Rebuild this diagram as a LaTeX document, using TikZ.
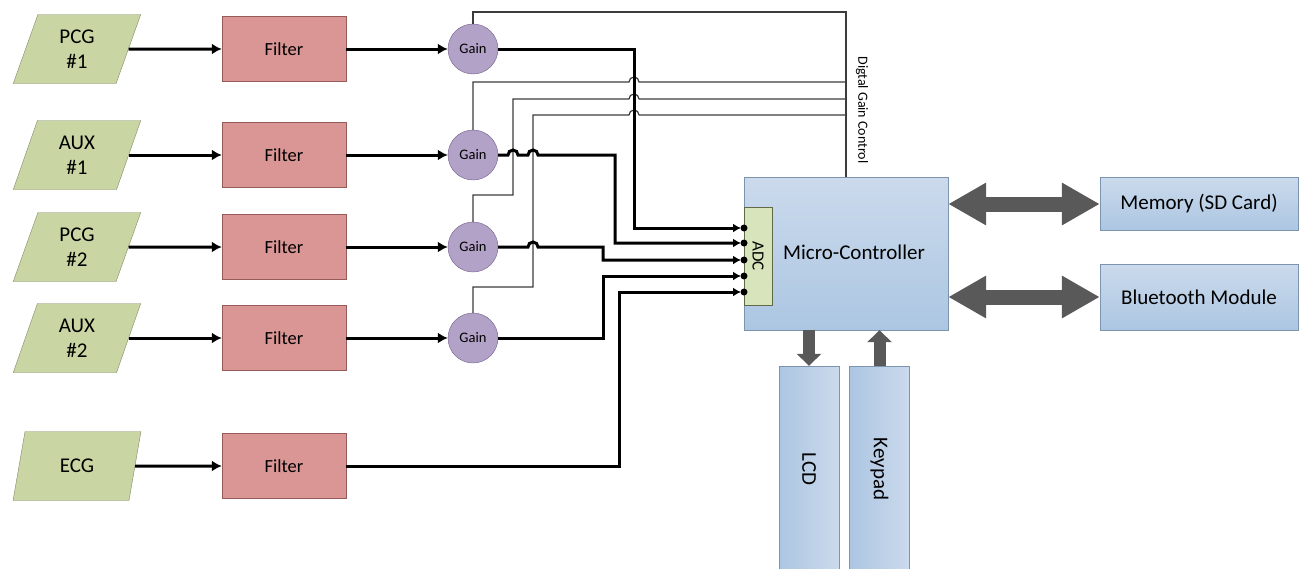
\documentclass[tikz,border=0pt]{standalone}
\usepackage{fontspec}
\setmainfont{Carlito}
\usetikzlibrary{arrows.meta,positioning,calc,shapes.geometric}
\definecolor{sensorgreen}{RGB}{201,214,163}
\definecolor{sensoredge}{RGB}{128,138,104}
\definecolor{filterred}{RGB}{217,150,148}
\definecolor{filteredge}{RGB}{150,90,88}
\definecolor{gainpurple}{RGB}{178,162,199}
\definecolor{gainedge}{RGB}{112,92,140}
\definecolor{blocktop}{RGB}{203,218,236}
\definecolor{blockbot}{RGB}{172,198,226}
\definecolor{blockedge}{RGB}{125,148,176}
\definecolor{adcgreen}{RGB}{215,228,188}
\definecolor{adcedge}{RGB}{95,105,70}
\definecolor{busgray}{RGB}{89,89,89}
\definecolor{ctlgray}{RGB}{60,60,60}

\begin{document}
\begin{tikzpicture}[x=1pt,y=1pt,
  sensor/.style={trapezium,trapezium left angle=74,trapezium right angle=106,trapezium stretches=true,minimum width=128pt,minimum height=69pt,inner sep=0pt,draw=sensoredge,fill=sensorgreen,align=center,font=\fontsize{21}{25}\selectfont},
  filterbox/.style={rectangle,minimum width=124pt,minimum height=65pt,draw=filteredge,fill=filterred,font=\fontsize{18.5}{20}\selectfont},
  gainnode/.style={circle,minimum size=50pt,inner sep=0pt,draw=gainedge,fill=gainpurple,font=\fontsize{14.5}{16}\selectfont},
  blockbox/.style={rectangle,draw=blockedge,top color=blocktop,bottom color=blockbot,font=\fontsize{21}{24}\selectfont},
  sidebox/.style={rectangle,draw=blockedge,left color=blockbot,right color=blocktop,minimum width=60pt,minimum height=206pt,font=\fontsize{21}{24}\selectfont},
  sig/.style={line width=3pt,-{Latex[length=10pt,width=11pt]}},
  feed/.style={line width=3pt,-{Latex[length=8pt,width=9pt]},shorten >=3pt},
  ctl/.style={line width=1.2pt,ctlgray},
  bus/.style={line width=15pt,busgray,{Triangle[length=38pt,width=40pt]}-{Triangle[length=38pt,width=40pt]}},
  busv/.style={line width=12pt,busgray,-{Triangle[length=12pt,width=24pt]}}]
\useasboundingbox (0,0) rectangle (1299,-568);

\node[sensor] (pcg1) at (77,-49) {PCG\\\#1};
\node[sensor] (aux1) at (77,-155) {AUX\\\#1};
\node[sensor] (pcg2) at (77,-247) {PCG\\\#2};
\node[sensor] (aux2) at (77,-338) {AUX\\\#2};
\node[sensor] (ecg) at (77,-466) {ECG};

\node[filterbox] (f1) at (284,-49) {Filter};
\node[filterbox] (f2) at (284,-155) {Filter};
\node[filterbox] (f3) at (284,-247) {Filter};
\node[filterbox] (f4) at (284,-338) {Filter};
\node[filterbox] (f5) at (284,-466) {Filter};

\node[gainnode] (g1) at (473,-49) {Gain};
\node[gainnode] (g2) at (473,-155) {Gain};
\node[gainnode] (g3) at (473,-247) {Gain};
\node[gainnode] (g4) at (473,-338) {Gain};

\node[blockbox,minimum width=204pt,minimum height=153pt] (mc) at (846,-253.5) {};
\node[font=\fontsize{21}{24}\selectfont] (mctext) at (854,-252) {Micro-Controller};
\node[rectangle,minimum width=28pt,minimum height=98pt,inner sep=0pt,draw=adcedge,fill=adcgreen,font=\fontsize{17}{19}\selectfont] (adc) at (758,-256) {\rotatebox{-90}{ADC}};
\node[blockbox,minimum width=198pt,minimum height=53pt] (mem) at (1199,-204) {Memory (SD Card)};
\node[blockbox,minimum width=198pt,minimum height=66pt] (bt) at (1199,-297) {Bluetooth Module};
\node[sidebox] (lcd) at (809,-469) {\rotatebox{-90}{LCD}};
\node[sidebox] (kp) at (879.5,-469) {\rotatebox{-90}{Keypad}};

\coordinate (a1) at (744,-228);
\coordinate (a2) at (744,-243);
\coordinate (a3) at (744,-260);
\coordinate (a4) at (744,-276);
\coordinate (a5) at (744,-292);
\coordinate (dgc) at (846,-12);

\draw[sig] (pcg1) -- (f1);
\draw[sig] (aux1) -- (f2);
\draw[sig] (pcg2) -- (f3);
\draw[sig] (aux2) -- (f4);
\draw[sig] (ecg) -- (f5);
\draw[sig] (f1) -- (g1);
\draw[sig] (f2) -- (g2);
\draw[sig] (f3) -- (g3);
\draw[sig] (f4) -- (g4);

\draw[ctl] (g1.north) |- (dgc) -- (dgc |- mc.north);
\draw[ctl] (g2.north) |- (629,-82) arc[start angle=180,end angle=0,radius=5pt] -- (846,-82);
\draw[ctl] (g3.north) |- (513,-195) |- (629,-99) arc[start angle=180,end angle=0,radius=5pt] -- (846,-99);
\draw[ctl] (g4.north) |- (533,-287) |- (629,-115) arc[start angle=180,end angle=0,radius=5pt] -- (846,-115);
\node[font=\fontsize{14}{16}\selectfont] (dgclabel) at (862,-110) {\rotatebox{-90}{Digtal Gain Control}};

\draw[feed] (g1.east) -| (634,-228) -- (a1);
\draw[feed] (g2.east) -- (508,-155) arc[start angle=180,end angle=0,radius=5pt] -- (528,-155) arc[start angle=180,end angle=0,radius=5pt] -- (615,-155) |- (a2);
\draw[feed] (g3.east) -- (528,-247) arc[start angle=180,end angle=0,radius=5pt] -- (603,-247) |- (a3);
\draw[feed] (g4.east) -| (603,-276) -- (a4);
\draw[feed] (f5.east) -| (619,-292) -- (a5);
\foreach \p in {a1,a2,a3,a4,a5} \fill (\p) circle[radius=3.5pt];

\draw[bus] (mem.west -| mc.east) -- (mem.west);
\draw[bus] (bt.west -| mc.east) -- (bt.west);
\draw[busv] (lcd.north |- mc.south) -- (lcd.north);
\draw[busv] (kp.north) -- (kp.north |- mc.south);
\end{tikzpicture}
\end{document}
